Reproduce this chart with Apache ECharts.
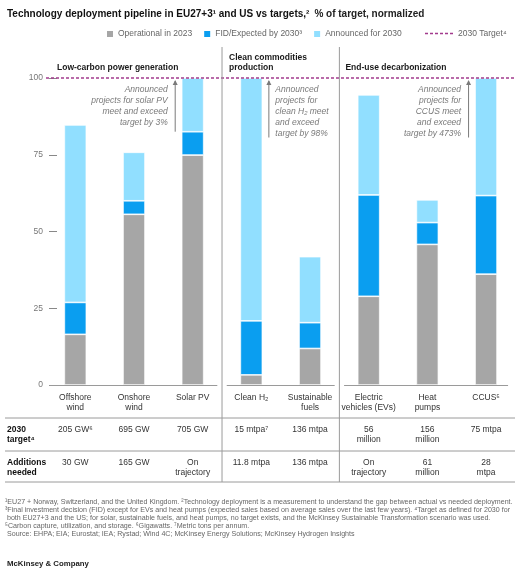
<!DOCTYPE html>
<html><head><meta charset="utf-8">
<script src="https://cdn.jsdelivr.net/npm/echarts@6/dist/echarts.min.js"></script>
<style>html,body{margin:0;padding:0;background:#fff}#c{width:520px;height:578px}</style>
</head><body><div id="c"></div>
<script>
// ---- data ----
const categories = ['Offshore\nwind','Onshore\nwind','Solar PV','Clean H₂','Sustainable\nfuels','Electric\nvehicles (EVs)','Heat\npumps','CCUS⁵'];
const operational = [16.5, 55.6, 74.9, 3.3, 11.9, 28.9, 45.8, 36.1];
const fidExpected = [10.4, 4.4, 7.6, 17.6, 8.4, 33.0, 7.1, 25.6];
const announced   = [57.8, 15.8, 17.5, 79.1, 21.5, 32.6, 7.4, 38.3];
const targetValue = 100;
const yTicks = [0, 25, 50, 75, 100];
const target2030 = ['205 GW⁶','695 GW','705 GW','15 mtpa⁷','136 mtpa','56\nmillion','156\nmillion','75 mtpa'];
const additionsNeeded = ['30 GW','165 GW','On\ntrajectory','11.8 mtpa','136 mtpa','On\ntrajectory','61\nmillion','28\nmtpa'];
const sections = [
  {name:'Low-carbon power generation', from:0, to:2},
  {name:'Clean commodities\nproduction', from:3, to:4},
  {name:'End-use decarbonization', from:5, to:7}
];
const annotations = [
  {cat:2, side:'left', text:'Announced\nprojects for solar PV\nmeet and exceed\ntarget by 3%'},
  {cat:3, side:'right', text:'Announced\nprojects for\nclean H₂ meet\nand exceed\ntarget by 98%'},
  {cat:7, side:'left', text:'Announced\nprojects for\nCCUS meet\nand exceed\ntarget by 473%'}
];
const footnotes = '¹EU27 + Norway, Switzerland, and the United Kingdom. ²Technology deployment is a measurement to understand the gap between actual vs needed deployment.\n³Final investment decision (FID) except for EVs and heat pumps (expected sales based on average sales over the last few years). ⁴Target as defined for 2030 for\n both EU27+3 and the US; for solar, sustainable fuels, and heat pumps, no target exists, and the McKinsey Sustainable Transformation scenario was used.\n⁵Carbon capture, utilization, and storage. ⁶Gigawatts. ⁷Metric tons per annum.\n Source: EHPA; EIA; Eurostat; IEA; Rystad; Wind 4C; McKinsey Energy Solutions; McKinsey Hydrogen Insights';

// ---- styles ----
const FONT = '"Liberation Sans", Arial, Helvetica, sans-serif';
const C_GRAY = '#a6a6a6', C_BLUE = '#0a9ef0', C_LIGHT = '#91dfff', C_TARGET = '#a23b8d';
const LINE = '#9a9a9a';

const chart = echarts.init(document.getElementById('c'), null, {renderer:'canvas'});
const barCommon = {type:'bar', stack:'s', barWidth:22, itemStyle:{borderColor:'#fff', borderWidth:0.7}, emphasis:{disabled:true}};
chart.setOption({
  animation:false,
  textStyle:{fontFamily:FONT},
  title:{left:2, top:0, text:'{b|Technology deployment pipeline in EU27+3¹ and US vs targets,²} {n|% of target, normalized}',
    textStyle:{rich:{b:{fontWeight:'bold', fontSize:10, color:'#111', fontFamily:FONT}, n:{fontSize:10, color:'#222', fontFamily:FONT}}}},
  legend:[
    {left:100, top:24, itemWidth:8, itemHeight:8, itemGap:10, icon:'rect', data:['Operational in 2023','FID/Expected by 2030³','Announced for 2030'],
     textStyle:{fontSize:8.5, color:'#666', padding:[0,0,0,-1]}, selectedMode:false}
  ],
  grid:{left:46, right:4.6, top:78, bottom:193},
  xAxis:{type:'category', data:categories, axisLine:{show:false}, axisTick:{show:false},
    axisLabel:{interval:0, fontSize:8.5, color:'#333', lineHeight:10.5, margin:7}},
  yAxis:{type:'value', min:0, max:100, interval:25, offset:-3, splitLine:{show:false}, axisLine:{show:false},
    axisTick:{show:true, inside:true, length:8, lineStyle:{color:'#888'}},
    axisLabel:{fontSize:8.5, color:'#777', margin:6, customValues:yTicks}},
  series:[
    Object.assign({name:'Operational in 2023', data:operational, color:C_GRAY}, barCommon),
    Object.assign({name:'FID/Expected by 2030³', data:fidExpected, color:C_BLUE}, barCommon),
    Object.assign({name:'Announced for 2030', data:announced, color:C_LIGHT}, barCommon),
    {name:'2030 Target⁴', type:'line', data:[], symbol:'none', color:C_TARGET,
     lineStyle:{type:[3,2], width:1.5, color:C_TARGET},
     markLine:{silent:true, symbol:'none', label:{show:false}, lineStyle:{type:[3,2], width:1.5, color:C_TARGET},
       data:[{yAxis:targetValue}]}}
  ]
});

// ---- decorations positioned from the chart's own scales ----
const cx = i => chart.convertToPixel({xAxisIndex:0}, i);
const vy = v => chart.convertToPixel({yAxisIndex:0}, v);
const y0 = vy(0), y100 = vy(100);
const g = [];
const bounds = [ (cx(2)+cx(3))/2, (cx(4)+cx(5))/2 ];
const tableTop = y0 + 33, row2 = y0 + 66, tableBottom = y0 + 97;
// target legend entry
g.push({type:'line', shape:{x1:425, y1:33.5, x2:455, y2:33.5}, style:{stroke:C_TARGET, lineWidth:1.3, lineDash:[3,2]}, z:6});
g.push({type:'text', style:{x:458, y:33.5, text:'2030 Target⁴', font:'8.5px '+FONT, fill:'#666', textVerticalAlign:'middle'}, z:6});
// dividers
bounds.forEach(b => g.push({type:'line', shape:{x1:b, y1:47, x2:b, y2:tableBottom}, style:{stroke:LINE, lineWidth:1}, z:5}));
// x axis segments
const axL = cx(0) - 26, axR = cx(7) + 22, gap = 4.7;
[[axL, bounds[0]-gap],[bounds[0]+gap, bounds[1]-gap],[bounds[1]+gap, axR]].forEach(s =>
  g.push({type:'line', shape:{x1:s[0], y1:y0+0.5, x2:s[1], y2:y0+0.5}, style:{stroke:LINE, lineWidth:1}, z:5}));
// table lines
[tableTop, row2, tableBottom].forEach(y => g.push({type:'line', shape:{x1:5, y1:y, x2:515, y2:y}, style:{stroke:LINE, lineWidth:1}, z:5}));
// section titles
const secX = [57, bounds[0]+7, bounds[1]+6];
sections.forEach((s, i) => {
  const two = s.name.indexOf('\n') >= 0;
  g.push({type:'text', style:{x:secX[i], y:two ? 52 : 62.5, text:s.name, font:'bold 8.5px '+FONT, fill:'#1a1a1a', lineHeight:10.5, textVerticalAlign:'top'}, z:6});
});
// annotations with arrows
annotations.forEach(a => {
  const x = cx(a.cat);
  const ax = a.side === 'left' ? x - 17.5 : x + 17.5;
  const tx = a.side === 'left' ? x - 25 : x + 24;
  const lines = a.text.split('\n').length;
  g.push({type:'line', shape:{x1:ax, y1:y100+3, x2:ax, y2: lines === 4 ? 131.7 : 137.5}, style:{stroke:'#7a7a7a', lineWidth:1}, z:6});
  g.push({type:'polygon', shape:{points:[[ax-2.5, y100+7],[ax+2.5, y100+7],[ax, y100+2]]}, style:{fill:'#7a7a7a'}, z:6});
  g.push({type:'text', style:{x:tx, y:84.5, text:a.text, font:'italic 8.5px '+FONT, fill:'#7a7a7a', lineHeight:11, textAlign:a.side==='left'?'right':'left', textVerticalAlign:'top'}, z:6});
});
// table
g.push({type:'text', style:{x:7, y:tableTop+6, text:'2030\ntarget⁴', font:'bold 8.5px '+FONT, fill:'#111', lineHeight:10.7, textVerticalAlign:'top'}, z:6});
g.push({type:'text', style:{x:7, y:row2+6, text:'Additions\nneeded', font:'bold 8.5px '+FONT, fill:'#111', lineHeight:10.7, textVerticalAlign:'top'}, z:6});
categories.forEach((c, i) => {
  g.push({type:'text', style:{x:cx(i), y:tableTop+6, text:target2030[i], font:'8.5px '+FONT, fill:'#333', lineHeight:10.7, textAlign:'center', textVerticalAlign:'top'}, z:6});
  g.push({type:'text', style:{x:cx(i), y:row2+6, text:additionsNeeded[i], font:'8.5px '+FONT, fill:'#333', lineHeight:10.7, textAlign:'center', textVerticalAlign:'top'}, z:6});
});
// footnotes + brand
g.push({type:'text', style:{x:5, y:497.5, text:footnotes, font:'7.1px '+FONT, fill:'#666', lineHeight:8.1, textVerticalAlign:'top'}, z:6});
g.push({type:'text', style:{x:7, y:559.5, text:'McKinsey & Company', font:'bold 7.8px '+FONT, fill:'#222', textVerticalAlign:'top'}, z:6});
chart.setOption({graphic:g});
</script></body></html>
